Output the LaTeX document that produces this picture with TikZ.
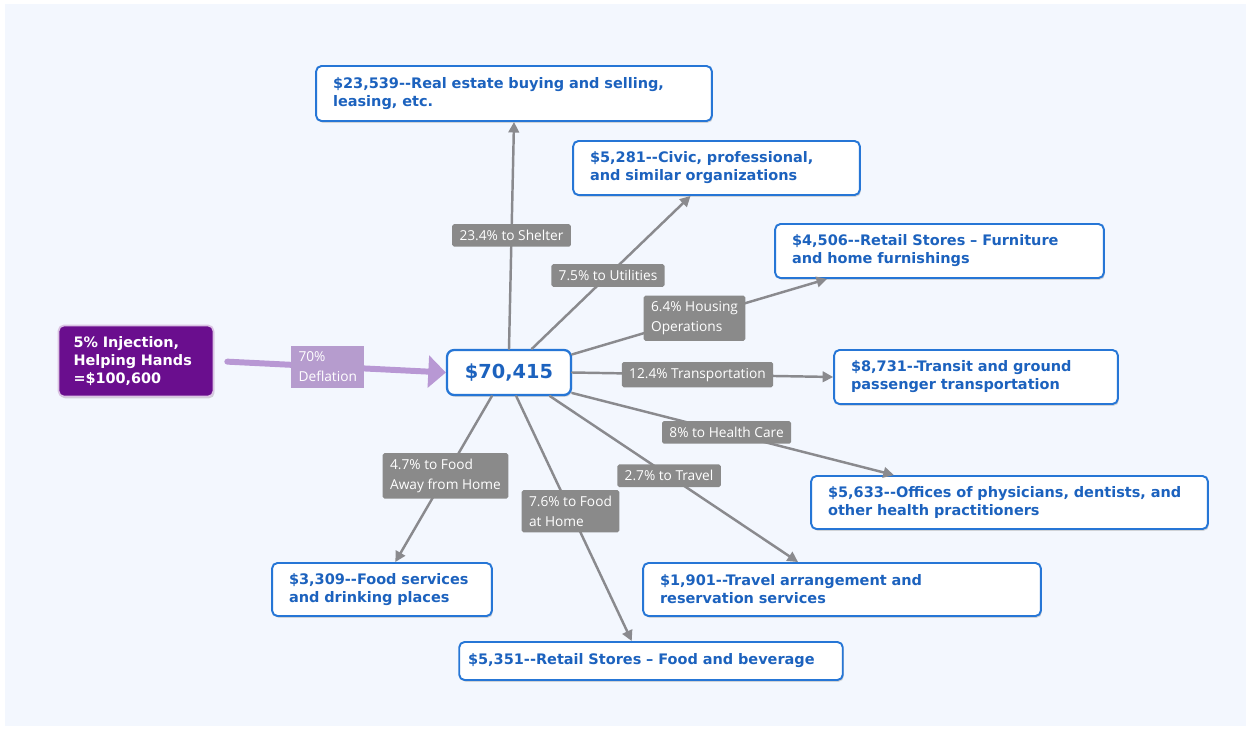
\documentclass[tikz,border=0pt]{standalone}
\usepackage{fontspec}
\setmainfont{DejaVu Sans}
\newfontfamily\labelfont{Open Sans}
\usetikzlibrary{arrows.meta,calc,shadows}
\definecolor{pagebg}{RGB}{243,247,254}
\definecolor{leafblue}{RGB}{28,98,190}
\definecolor{leafedge}{RGB}{38,118,214}
\definecolor{flowgray}{RGB}{138,138,142}
\definecolor{labgray}{RGB}{138,138,138}
\definecolor{injpurple}{RGB}{106,14,142}
\definecolor{deflpurple}{RGB}{184,152,212}
\definecolor{defllab}{RGB}{182,156,206}

\tikzset{
 leaf/.style 2 args={draw=leafedge,fill=white,line width=1.1pt,rounded corners=3pt,
  text=leafblue,font=\fontsize{8.25}{10.3}\selectfont\bfseries,align=left,
  text width=#1,minimum height=#2,inner xsep=9.6pt,
  drop shadow={shadow xshift=.6pt,shadow yshift=-1pt,opacity=.3}},
 lab/.style={fill=labgray,text=white,font=\labelfont\fontsize{7.8}{11.3}\selectfont,
  align=left,inner xsep=4.2pt,inner ysep=3.4pt,rounded corners=1pt},
 flow/.style={draw=flowgray,line width=1.4pt,-{Triangle[length=6pt,width=6pt]}},
}

\begin{document}
\begin{tikzpicture}[x=0.02cm,y=-0.02cm,line cap=round,line join=round]
 \fill[white] (0,0) rectangle (1251,730);
 \fill[pagebg] (5,4) rectangle (1246,726);

 \node[fill=injpurple,draw=white!75!injpurple,line width=1pt,rounded corners=3pt,
  text=white,font=\fontsize{8.2}{10.2}\selectfont\bfseries,align=left,
  text width=2.5cm,minimum height=1.42cm,inner xsep=8.5pt,
  drop shadow={shadow xshift=.6pt,shadow yshift=-1pt,opacity=.3}]
  (inj) at (136,361) {5\% Injection,\\Helping Hands\\=\$100,600};
 \node[draw=leafedge,fill=white,line width=1.3pt,rounded corners=4pt,text=leafblue,
  font=\fontsize{11}{13}\selectfont\bfseries,minimum width=2.48cm,minimum height=.9cm,
  drop shadow={shadow xshift=.6pt,shadow yshift=-1pt,opacity=.3}]
  (c) at (509,372.5) {\$70,415};

 \node[leaf={7.24cm}{1.1cm}] (re) at (514,93.5)
  {\$23,539-{}-Real estate buying and selling,\\leasing, etc.};
 \node[leaf={5.06cm}{1.08cm}] (civ) at (716.5,168)
  {\$5,281-{}-Civic, professional,\\and similar organizations};
 \node[leaf={5.9cm}{1.08cm}] (fur) at (939.5,251)
  {\$4,506-{}-Retail Stores -- Furniture\\and home furnishings};
 \node[leaf={5cm}{1.08cm}] (tr) at (976,377)
  {\$8,731-{}-Transit and ground\\passenger transportation};
 \node[leaf={7.26cm}{1.06cm}] (off) at (1009.5,502.5)
  {\$5,633-{}-Offices of physicians, dentists, and\\other health practitioners};
 \node[leaf={7.28cm}{1.06cm}] (trv) at (842,589.5)
  {\$1,901-{}-Travel arrangement and\\reservation services};
 \node[leaf={7.32cm}{.76cm},inner xsep=5pt] (fb) at (651,661)
  {\$5,351-{}-Retail Stores -- Food and beverage};
 \node[leaf={3.72cm}{1.06cm}] (fs) at (382,589.5)
  {\$3,309-{}-Food services\\and drinking places};

 \draw[deflpurple,line width=3.4pt,shorten <=7.4pt,-{Triangle[length=10pt,width=18pt]}]
  (inj.east) -- node[pos=.49,fill=defllab,text=white,align=left,inner xsep=4.2pt,
  inner ysep=3.4pt,font=\labelfont\fontsize{7.8}{11.3}\selectfont] {70\%\\Deflation} (c.west);

 \draw[flow] (c.north) -- node[lab] {23.4\% to Shelter} (re.south);
 \draw[flow] (c.46) -- node[lab,pos=.48] {7.5\% to Utilities}
  ($(civ.south west)!.41!(civ.south east)$);
 \draw[flow] (c.16) -- node[lab,pos=.48] {6.4\% Housing\\Operations}
  ($(fur.south west)!.16!(fur.south east)$);
 \draw[flow] (c.east) -- node[lab,pos=.48] {12.4\% Transportation} (tr.west);
 \draw[flow] (c.-18) -- node[lab,pos=.48] {8\% to Health Care}
  ($(off.north west)!.21!(off.north east)$);
 \draw[flow] (c.-30) -- node[lab,pos=.48] {2.7\% to Travel}
  ($(trv.north west)!.39!(trv.north east)$);
 \draw[flow] (c.-73) -- node[lab,pos=.47] {7.6\% to Food\\at Home}
  ($(fb.north west)!.45!(fb.north east)$);
 \draw[flow] (c.-126) -- node[lab,pos=.48] {4.7\% to Food\\Away from Home}
  ($(fs.north west)!.56!(fs.north east)$);
\end{tikzpicture}
\end{document}
